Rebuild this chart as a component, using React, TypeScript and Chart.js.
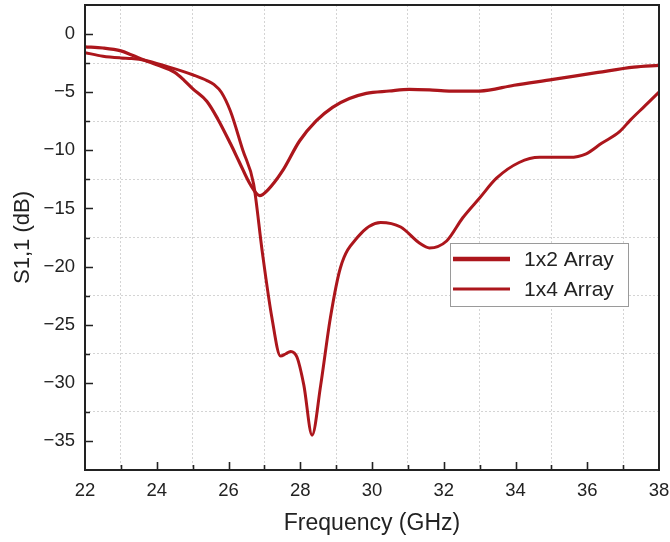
import React, { useEffect, useRef } from "react";
import { Chart, registerables } from "chart.js";

Chart.register(...registerables);

// Frequency (GHz) and S1,1 (dB)
const freq1x2 = [22, 22.5, 23, 23.3, 23.66, 24, 24.5, 24.77, 25, 25.4, 25.7, 26.05, 26.3, 26.6, 26.87, 27.1, 27.5, 27.98, 28.45, 28.9, 29.37, 29.84, 30.48, 31.04, 31.6, 32.15, 33.0, 33.96, 35.05, 36.3, 37.3, 38];
const s11_1x2 = [-1.1, -1.2, -1.45, -1.8, -2.25, -2.65, -3.3, -4.0, -4.7, -5.8, -7.3, -9.4, -11.0, -12.9, -13.9, -13.4, -11.8, -9.2, -7.45, -6.3, -5.55, -5.1, -4.9, -4.75, -4.8, -4.9, -4.9, -4.4, -3.9, -3.3, -2.85, -2.7];

const freq1x4 = [22, 22.5, 23, 23.3, 23.66, 24.3, 24.77, 25, 25.4, 25.6, 25.8, 26.05, 26.4, 26.7, 26.94, 27.21, 27.45, 27.6, 27.73, 27.91, 28.1, 28.33, 28.57, 28.84, 29.12, 29.59, 30.24, 30.8, 31.33, 31.6, 32.08, 32.53, 33.0, 33.47, 34.1, 34.67, 35.5, 35.97, 36.4, 36.9, 37.2, 37.6, 38];
const s11_1x4 = [-1.6, -1.9, -2.05, -2.1, -2.25, -2.8, -3.25, -3.5, -4.0, -4.35, -5.0, -6.6, -10.0, -12.9, -18.7, -24.4, -27.7, -27.5, -27.3, -27.8, -30.2, -34.5, -30.2, -24.4, -20.1, -17.5, -16.2, -16.6, -18.0, -18.4, -17.8, -15.8, -14.1, -12.4, -11.05, -10.6, -10.6, -10.3, -9.4, -8.4, -7.4, -6.2, -5.0];

const seriesLabels = ["1x2 Array", "1x4 Array"];
const xMin = 22, xMax = 38, xStep = 1, xLabelStep = 2;
const yMin = -37.5, yMax = 2.5, yStep = 2.5, yLabelStep = 5;

const RED = "rgb(172, 22, 28)";
const INK = "#222222";
const FONT = "'Liberation Sans', Arial, sans-serif";

const minus = (v: number) => (v < 0 ? "\u2212" + Math.abs(v) : String(v));

const framePlugin = {
  id: "framePlugin",
  afterDraw(chart: any) {
    const { ctx, chartArea } = chart;
    const { left, right, top, bottom } = chartArea;
    const xs = chart.scales.x;
    const ys = chart.scales.y;
    ctx.save();
    ctx.strokeStyle = INK;
    ctx.lineWidth = 2;
    ctx.strokeRect(left, top, right - left, bottom - top);
    ctx.lineWidth = 1.6;
    ctx.beginPath();
    for (let v = xMin + xStep; v < xMax; v += xStep) {
      const px = Math.round(xs.getPixelForValue(v)) + 0.5;
      const len = v % xLabelStep === 0 ? 8 : 5;
      ctx.moveTo(px, bottom);
      ctx.lineTo(px, bottom - len);
    }
    for (let v = yMin + yStep; v < yMax; v += yStep) {
      const py = Math.round(ys.getPixelForValue(v)) + 0.5;
      const len = v % yLabelStep === 0 ? 8 : 5;
      ctx.moveTo(left, py);
      ctx.lineTo(left + len, py);
    }
    ctx.stroke();

    // legend
    const bx = left + 365, by = top + 238, bw = 178, bh = 63;
    ctx.fillStyle = "#ffffff";
    ctx.fillRect(bx, by, bw, bh);
    ctx.strokeStyle = "#9a9a9a";
    ctx.lineWidth = 1;
    ctx.strokeRect(bx + 0.5, by + 0.5, bw, bh);
    const rows = [by + 16, by + 46];
    chart.data.datasets.forEach((ds: any, i: number) => {
      ctx.strokeStyle = ds.borderColor;
      ctx.lineWidth = i === 0 ? 4.5 : 3;
      ctx.beginPath();
      ctx.moveTo(bx + 3, rows[i]);
      ctx.lineTo(bx + 60, rows[i]);
      ctx.stroke();
      ctx.fillStyle = INK;
      ctx.font = `21px ${FONT}`;
      ctx.textBaseline = "middle";
      ctx.textAlign = "left";
      ctx.fillText(ds.label, bx + 74, rows[i] + 1);
    });
    ctx.restore();
  },
};

export default function App() {
  const ref = useRef<HTMLCanvasElement | null>(null);
  useEffect(() => {
    document.body.style.margin = "0";
    const canvas = ref.current!;
    const chart = new Chart(canvas, {
      type: "line",
      data: {
        datasets: [
          {
            label: seriesLabels[0],
            data: freq1x2.map((f, i) => ({ x: f, y: s11_1x2[i] })),
            borderColor: RED,
            borderWidth: 3.2,
            pointRadius: 0,
            cubicInterpolationMode: "monotone",
            fill: false,
          },
          {
            label: seriesLabels[1],
            data: freq1x4.map((f, i) => ({ x: f, y: s11_1x4[i] })),
            borderColor: RED,
            borderWidth: 3,
            pointRadius: 0,
            cubicInterpolationMode: "monotone",
            fill: false,
          },
        ],
      },
      options: {
        animation: false,
        responsive: false,
        maintainAspectRatio: false,
        layout: { padding: { top: 5, right: 11, left: 0, bottom: 0 } },
        plugins: { legend: { display: false }, tooltip: { enabled: false } },
        scales: {
          x: {
            type: "linear",
            min: xMin,
            max: xMax,
            afterFit: (s: any) => { s.height = 72; s.paddingLeft = 0; s.paddingRight = 0; },
            ticks: {
              stepSize: xStep,
              autoSkip: false,
              maxRotation: 0,
              padding: 10,
              color: INK,
              font: { family: FONT, size: 18.5 },
              callback: (v: any) => (Number(v) % xLabelStep === 0 ? String(v) : ""),
            },
            grid: {
              drawTicks: false,
              lineWidth: 1,
              color: (c: any) => {
                const v = c.tick ? c.tick.value : 0;
                return v % xLabelStep !== 0 ? "#d4d4d4" : "rgba(0,0,0,0)";
              },
            },
            border: { display: false, dash: [2, 2] },
            title: {
              display: true,
              text: "Frequency (GHz)",
              color: INK,
              font: { family: FONT, size: 23 },
              padding: { top: 0, bottom: 5 },
            },
          },
          y: {
            type: "linear",
            min: yMin,
            max: yMax,
            afterFit: (s: any) => { s.width = 85; s.paddingTop = 0; s.paddingBottom = 0; },
            ticks: {
              stepSize: yStep,
              autoSkip: false,
              padding: 10,
              color: INK,
              font: { family: FONT, size: 18.5 },
              callback: (v: any) => (Number(v) % yLabelStep === 0 ? minus(Number(v)) : ""),
            },
            grid: {
              drawTicks: false,
              lineWidth: 1,
              color: (c: any) => {
                const v = c.tick ? c.tick.value : 0;
                if (v <= yMin || v >= yMax) return "rgba(0,0,0,0)";
                return v % yLabelStep !== 0 ? "#d4d4d4" : "rgba(0,0,0,0)";
              },
            },
            border: { display: false, dash: [2, 2] },
            title: {
              display: true,
              text: "S1,1 (dB)",
              color: INK,
              font: { family: FONT, size: 22 },
              padding: { top: 10, bottom: 0 },
            },
          },
        },
      },
      plugins: [framePlugin],
    });
    return () => chart.destroy();
  }, []);
  return <canvas ref={ref} width={670} height={542} style={{ display: "block" }} />;
}
